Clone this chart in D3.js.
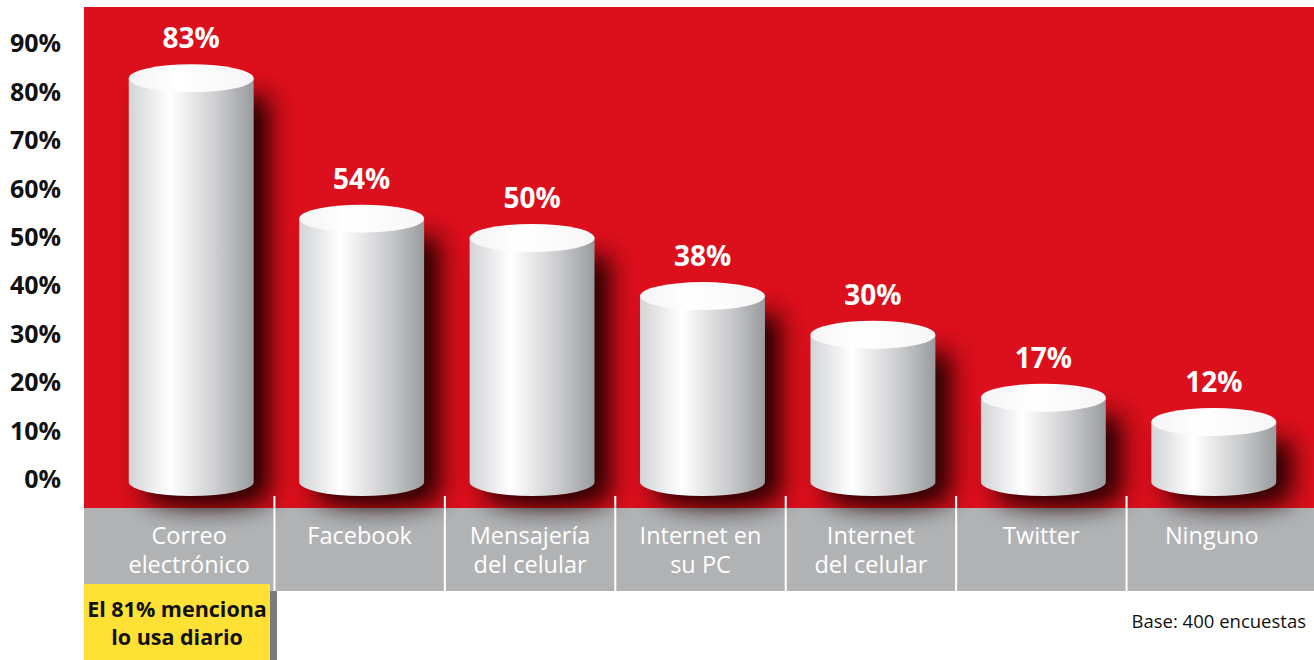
<!DOCTYPE html>
<html><head><meta charset="utf-8">
<script src="https://cdn.jsdelivr.net/npm/d3@7"></script>
<style>html,body{margin:0;padding:0;background:#fff;}svg{display:block;}</style>
</head><body>
<script>
const categories = ["Correo electrónico","Facebook","Mensajería del celular","Internet en su PC","Internet del celular","Twitter","Ninguno"];
const labelLines = [["Correo","electrónico"],["Facebook"],["Mensajería","del celular"],["Internet en","su PC"],["Internet","del celular"],["Twitter"],["Ninguno"]];
const values = [83,54,50,38,30,17,12];
const tickValues = [0,10,20,30,40,50,60,70,80,90];
const noteLines = ["El 81% menciona","lo usa diario"];
const baseNote = "Base: 400 encuestas";

const W=1314,H=660;
const svg=d3.select("body").append("svg").attr("width",W).attr("height",H);
const defs=svg.append("defs");
const font="'Open Sans', 'Noto Sans', sans-serif";

const y=d3.scaleLinear().domain([0,100]).range([480,-4]);
const x=d3.scaleBand().domain(categories).range([106,1299]).padding(0);
const bw=x.bandwidth();
const cw=bw*0.733, rx=cw/2, ry=14;

// gradients
const g=defs.append("linearGradient").attr("id","side").attr("x1","0").attr("x2","1").attr("y1","0").attr("y2","0");
[[0,"#d3d4d6"],[0.12,"#e2e3e5"],[0.33,"#ffffff"],[0.42,"#f3f3f4"],[0.72,"#c9cacc"],[1,"#9a9b9e"]].forEach(s=>g.append("stop").attr("offset",s[0]).attr("stop-color",s[1]));
const tg=defs.append("linearGradient").attr("id","top").attr("x1","0").attr("x2","1");
[[0,"#f4f4f5"],[0.4,"#ffffff"],[1,"#f6f6f7"]].forEach(s=>tg.append("stop").attr("offset",s[0]).attr("stop-color",s[1]));
const f=defs.append("filter").attr("id","blur").attr("x","-50%").attr("y","-50%").attr("width","200%").attr("height","200%");
f.append("feGaussianBlur").attr("stdDeviation",12);
defs.append("clipPath").attr("id","panelClip").append("rect").attr("x",84).attr("y",7).attr("width",W-84).attr("height",584);

// panel
svg.append("rect").attr("x",84).attr("y",7).attr("width",W-84).attr("height",501).attr("fill","#dc0f1c");
svg.append("rect").attr("x",84).attr("y",508).attr("width",W-84).attr("height",83).attr("fill","#b1b2b4");

function cylPath(cx,yt,yb){
  return `M${cx-rx},${yt} L${cx-rx},${yb} A${rx},${ry} 0 0 0 ${cx+rx},${yb} L${cx+rx},${yt} Z`;
}

// shadows
const sh=svg.append("g").attr("clip-path","url(#panelClip)");
sh.selectAll("path").data(categories).join("path")
  .attr("d",(c,i)=>cylPath(x(c)+bw/2+16,y(values[i])+18,y(0)+14))
  .attr("fill","#1a0000").attr("opacity",0.95).attr("filter","url(#blur)");

// separators
svg.selectAll("line.sep").data(categories.slice(1)).join("line").attr("class","sep")
  .attr("x1",c=>x(c)-2).attr("x2",c=>x(c)-2).attr("y1",496).attr("y2",591)
  .attr("stroke","#fff").attr("stroke-width",2);

// cylinders
const cyl=svg.selectAll("g.cyl").data(categories).join("g").attr("class","cyl");
cyl.append("path").attr("d",(c,i)=>cylPath(x(c)+bw/2,y(values[i]),y(0)+2)).attr("fill","url(#side)");
cyl.append("ellipse").attr("cx",c=>x(c)+bw/2).attr("cy",(c,i)=>y(values[i])).attr("rx",rx).attr("ry",ry).attr("fill","url(#top)");
cyl.append("text").attr("x",c=>x(c)+bw/2).attr("y",(c,i)=>y(values[i])-30)
  .attr("text-anchor","middle").attr("fill","#fff").attr("font-family",font).attr("font-weight","bold").attr("font-size",28)
  .text((c,i)=>values[i]+"%");

// axis
const ax=svg.append("g").attr("transform","translate(61,0)")
  .call(d3.axisLeft(y).tickValues(tickValues).tickFormat(d=>d+"%").tickSize(0).tickPadding(0));
ax.select(".domain").remove();
ax.selectAll("text").attr("font-family",font).attr("font-weight","bold").attr("font-size",25).attr("fill","#111").attr("dy","0.3em");

// category labels
const cl=svg.selectAll("text.cat").data(categories).join("text").attr("class","cat")
  .attr("text-anchor","middle").attr("fill","#fff").attr("font-family",font).attr("font-size",23.5);
cl.each(function(c,i){
  const t=d3.select(this);
  labelLines[i].forEach((ln,j)=>{
    t.append("tspan").attr("x",x(c)+bw/2-2).attr("y",544+j*29).text(ln);
  });
});

// note box
svg.append("rect").attr("x",84).attr("y",584).attr("width",186).attr("height",76).attr("fill","#ffe035");
svg.append("rect").attr("x",270).attr("y",591).attr("width",7).attr("height",69).attr("fill","#7b7b7d");
noteLines.forEach((ln,j)=>svg.append("text").attr("x",177).attr("y",617+j*28).attr("text-anchor","middle")
  .attr("font-family",font).attr("font-weight","bold").attr("font-size",21.5).attr("fill","#111").text(ln));
svg.append("text").attr("x",1306).attr("y",628).attr("text-anchor","end").attr("font-family",font).attr("font-size",18.5).attr("fill","#111").text(baseNote);
</script>
</body></html>
